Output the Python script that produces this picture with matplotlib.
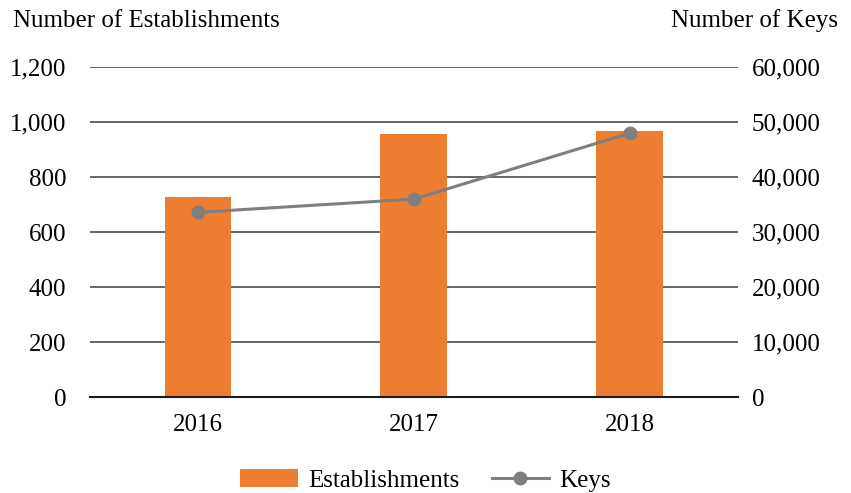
import matplotlib
matplotlib.use("Agg")
import matplotlib.pyplot as plt
from matplotlib.ticker import FuncFormatter

years = ["2016", "2017", "2018"]
establishments = [727, 956, 967]
keys = [33600, 36000, 48000]

plt.rcParams['font.family'] = ['Liberation Serif', 'DejaVu Serif']
FS = 18

fig = plt.figure(figsize=(8.51, 4.93), dpi=100)
ax = fig.add_axes([0.1058, 0.1947, 0.761, 0.669])
x = list(range(len(years)))
ax.bar(x, establishments, width=0.31, color="#ED7D31", zorder=2, label="Establishments")
ax.set_xlim(-0.5, 2.5)
ax.set_ylim(0, 1200)
ax.set_yticks(range(0, 1201, 200))
ax.yaxis.set_major_formatter(FuncFormatter(lambda v, p: f"{int(v):,}"))
ax.grid(axis='y', color="#595959", linewidth=1.3, zorder=0)
ax.set_axisbelow(True)
for s in ["top", "right", "left"]:
    ax.spines[s].set_visible(False)
ax.spines["bottom"].set_color("#1a1a1a")
ax.spines["bottom"].set_linewidth(1.5)
ax.set_xticks(x)
ax.set_xticklabels(years)
ax.tick_params(axis='both', length=0, labelsize=FS, colors="#000000")
ax.tick_params(axis='x', pad=12)
ax.tick_params(axis='y', pad=17)

ax2 = ax.twinx()
ax2.plot(x, keys, color="#7f7f7f", linewidth=2.2, marker='o', markersize=9, zorder=3, label="Keys")
ax2.set_ylim(0, 60000)
ax2.set_yticks(range(0, 60001, 10000))
ax2.yaxis.set_major_formatter(FuncFormatter(lambda v, p: f"{int(v):,}"))
for s in ["top", "right", "left", "bottom"]:
    ax2.spines[s].set_visible(False)
ax2.tick_params(axis='y', length=0, labelsize=FS, pad=10)

fig.text(0.015, 0.958, "Number of Establishments", fontsize=FS, ha='left', va='center')
fig.text(0.985, 0.958, "Number of Keys", fontsize=FS, ha='right', va='center')

h1, l1 = ax.get_legend_handles_labels()
h2, l2 = ax2.get_legend_handles_labels()
fig.legend(h1 + h2, l1 + l2, loc='center', bbox_to_anchor=(0.5, 0.025), ncol=2,
           frameon=False, fontsize=FS, handlelength=2.3, columnspacing=1.3, handletextpad=0.4)

fig.savefig("out.png", dpi=100)
